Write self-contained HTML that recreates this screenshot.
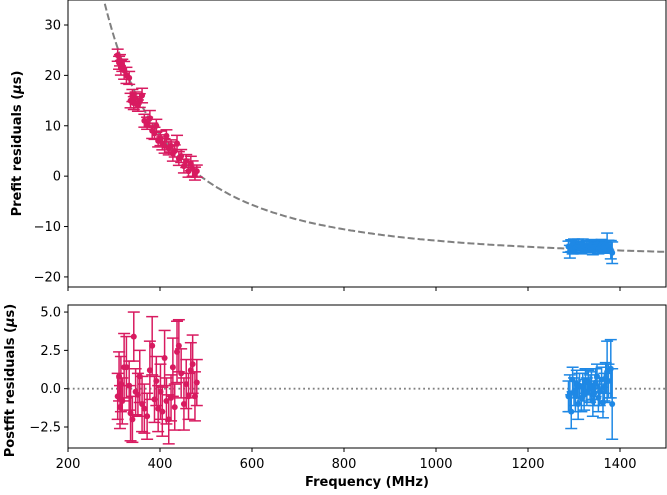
<!DOCTYPE html>
<html><head><meta charset="utf-8"><style>
body{margin:0;background:#fff;font-family:"Liberation Sans","DejaVu Sans",sans-serif}
svg text{font-family:"DejaVu Sans","Liberation Sans",sans-serif;font-size:13px;fill:#000}
</style></head><body>
<svg id="chart" width="667" height="490" xmlns="http://www.w3.org/2000/svg"></svg>
<script>
// data
const freqsLow = [308,311,313,315,318,322,327,333,336,340,343,347,352,356,361,366,372,378,383,388,392,396,401,405,410,414,419,424,428,432,437,441,446,452,457,462,467,471,476,480];
const prefitLow = [24,22.5,23,21.5,22,21,20,19.5,15,16,14.5,15.5,14,15,16,11,10.5,11.5,9,8.5,10,7,7.5,6.5,6,8,5.5,6,4.5,5,6.5,3.5,4,2,3,1,2.5,1.5,0.5,1];
const postLow = [-0.5,0.8,-1.2,0.3,-0.8,1.4,1.4,0.2,-1.6,-2.0,3.4,-0.2,-0.4,0.8,-1.0,-1.3,-1.8,1.2,2.8,-0.7,0.5,-1.3,-0.2,-1.5,2.0,-0.8,-2.0,-0.6,1.4,-1.2,2.4,2.8,1.0,-1.0,0.3,-0.5,1.2,1.6,-0.5,0.4];
const errLow = [1.5,1.6,1.4,1.8,1.5,2.2,2.0,1.6,1.8,1.5,1.6,1.5,1.4,1.7,1.8,1.6,1.5,1.9,1.9,1.5,1.6,1.5,1.8,1.6,1.8,1.5,1.6,1.5,1.9,1.5,2.0,1.7,1.6,1.7,1.6,1.5,1.8,1.9,1.6,1.5];
const freqsHigh = [1288,1291,1294,1297,1300,1303,1306,1309,1312,1316,1319,1322,1325,1328,1331,1335,1338,1341,1344,1347,1350,1353,1356,1360,1363,1366,1369,1372,1375,1380,1383];
const prefitHigh = [-14,-15,-13.8,-14.5,-13.5,-14.2,-14,-13.6,-13.8,-14.4,-13.5,-14,-14.2,-13.8,-14.3,-14,-13.6,-14.5,-14,-13.9,-13.7,-14.4,-14.2,-13.5,-14,-13.8,-14.2,-13.2,-13.9,-14.6,-15.2];
const postHigh = [-0.5,-0.3,-1.5,0.6,-0.2,-0.5,0.3,-1.0,0.2,-0.6,0.1,-0.4,0.5,-0.2,0.4,0.0,0.2,-0.8,-0.3,0.4,0.8,-0.6,-0.2,0.6,-0.9,0.1,0.7,1.1,0.5,1.3,-1.0];
const errHigh = [1.0,1.2,1.1,0.8,0.9,1.0,0.9,1.0,0.8,0.9,0.9,1.0,0.8,0.9,0.8,0.9,0.9,1.0,0.8,0.9,0.8,0.9,0.9,0.8,1.0,0.9,1.0,2.0,1.1,1.9,2.3];
const xTicks = [200,400,600,800,1000,1200,1400];
const yTicksTop = [-20,-10,0,10,20,30];
const yTicksBot = [-2.5,0.0,2.5,5.0];
const dmA = 4.0e6, dmC = -16.8;

const NS="http://www.w3.org/2000/svg", svg=document.getElementById('chart');
function el(t,a,p){const e=document.createElementNS(NS,t);for(const k in a)e.setAttribute(k,a[k]);(p||svg).appendChild(e);return e;}
const L=68,R=666;
const xs=f=>L+(f-200)/(1500-200)*(R-L);
const T1=0,B1=287,yt=v=>B1-(v-(-22.0))/(34.96+22.0)*(B1-T1);
const T2=305,B2=448,yb=v=>B2-(v-(-3.87))/(5.46+3.87)*(B2-T2);
const MAG="#d81b60",BLU="#1e88e5";

// dashed model curve
let d="";for(let f=260;f<=1500;f+=5){const v=dmA/(f*f)+dmC;if(v>36)continue;d+=(d?"L":"M")+xs(f).toFixed(1)+","+yt(v).toFixed(1);}
const curve=el('path',{d,fill:'none',stroke:'#808080','stroke-width':2,'stroke-dasharray':'7,3'});


const zl=el('line',{x1:L,x2:R,y1:yb(0),y2:yb(0),stroke:'#808080','stroke-width':1.8,'stroke-dasharray':'1.8,3'});



function pts(fr,vals,errs,col,ys,name){
  const g=el('g',{});
  
  
  fr.forEach((f,i)=>{
    const x=xs(f),y=ys(vals[i]),y1=ys(vals[i]+errs[i]),y2=ys(vals[i]-errs[i]);
    el('line',{x1:x,x2:x,y1:y1,y2:y2,stroke:col,'stroke-width':1.5},g);
    el('line',{x1:x-6,x2:x+6,y1:y1,y2:y1,stroke:col,'stroke-width':1.5},g);
    el('line',{x1:x-6,x2:x+6,y1:y2,y2:y2,stroke:col,'stroke-width':1.5},g);
    const c=el('circle',{cx:x,cy:y,r:3,fill:col},g);
    
    
  });
}
pts(freqsLow,prefitLow,errLow.map(e=>e*0.8),MAG,yt,'prefit-low-band');
pts(freqsHigh,prefitHigh,errHigh.map(e=>e*0.8+0.3),BLU,yt,'prefit-high-band');
pts(freqsLow,postLow,errLow,MAG,yb,'postfit-low-band');
pts(freqsHigh,postHigh,errHigh,BLU,yb,'postfit-high-band');

// frames
[[T1,B1,'top-plot-frame'],[T2,B2,'bottom-plot-frame']].forEach(([t,b,n])=>{
  const r=el('rect',{x:L,y:t,width:R-L,height:b-t,fill:'none',stroke:'#000','stroke-width':1});
  
  
});
xTicks.forEach(v=>{
  const x=xs(v);
  el('line',{x1:x,x2:x,y1:B1,y2:B1+4,stroke:'#000'});
  el('line',{x1:x,x2:x,y1:B2,y2:B2+4,stroke:'#000'});
  const t=el('text',{x:x,y:B2+20,'text-anchor':'middle'});t.textContent=v;
  
  
});
yTicksTop.forEach(v=>{
  const y=yt(v);el('line',{x1:L-4,x2:L,y1:y,y2:y,stroke:'#000'});
  const t=el('text',{x:L-7,y:y+4.5,'text-anchor':'end'});t.textContent=v<0?'\u2212'+(-v):v;
  
  
});
yTicksBot.forEach(v=>{
  const y=yb(v);el('line',{x1:L-4,x2:L,y1:y,y2:y,stroke:'#000'});
  const t=el('text',{x:L-7,y:y+4.5,'text-anchor':'end'});t.textContent=(v<0?'\u2212':'')+Math.abs(v).toFixed(1);
  
  
});
const xl=el('text',{x:(L+R)/2,y:486,'text-anchor':'middle','font-weight':'bold'});xl.textContent='Frequency (MHz)';


const y1=el('text',{x:0,y:0,'text-anchor':'middle','font-weight':'bold',transform:`translate(21,${(T1+B1)/2}) rotate(-90)`});
y1.innerHTML='Prefit residuals (<tspan font-style="italic">μ</tspan>s)';


const y2=el('text',{x:0,y:0,'text-anchor':'middle','font-weight':'bold',transform:`translate(14,${(T2+B2)/2+4}) rotate(-90)`});
y2.innerHTML='Postfit residuals (<tspan font-style="italic">μ</tspan>s)';


</script>
</body></html>
